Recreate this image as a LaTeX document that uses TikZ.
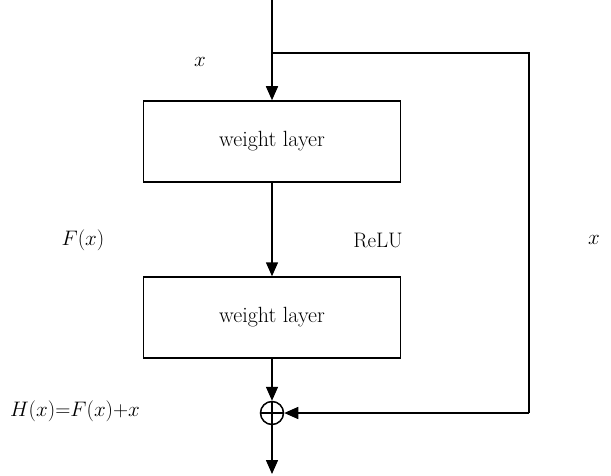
\RequirePackage{fix-cm}
\documentclass[tikz,border=0pt]{standalone}
\usetikzlibrary{arrows.meta}
\begin{document}
\begin{tikzpicture}[x=1pt,y=-1pt,
  line width=1.5pt,
  arr/.style={-{Triangle[length=14pt,width=12pt]}},
  wbox/.style={draw,minimum width=257pt,minimum height=81pt,inner sep=0pt,font=\fontsize{22}{26}\selectfont},
  lbl/.style={font=\fontsize{21}{25}\selectfont,inner sep=0pt},
  sumnode/.style={draw,circle,minimum size=23pt,inner sep=0pt,
    path picture={\draw[line width=1.5pt] (path picture bounding box.north) -- (path picture bounding box.south)
      (path picture bounding box.west) -- (path picture bounding box.east);}}]
\useasboundingbox (0,0) rectangle (611,476);
\node[wbox] (w1) at (272,141.5) {weight layer};
\node[wbox] (w2) at (272,317.5) {weight layer};
\node[sumnode] (s) at (272,413) {};
\coordinate (top) at (272,0);
\coordinate (br) at (272,53);
\coordinate (rt) at (529,53);
\coordinate (rb) at (529,413);
\coordinate (out) at (272,474);
\draw[arr] (top) -- (w1.north);
\draw (br) -- (rt) -- (rb);
\draw[arr] (rb) -- (s.east);
\draw[arr] (w1.south) -- (w2.north);
\draw[arr] (w2.south) -- (s.north);
\draw[arr] (s.south) -- (out);
\node[lbl] (lx) at (200,62) {$x$};
\node[lbl] (lf) at (83,240) {$F(x)$};
\node[lbl] (lr) at (378,240) {ReLU};
\node[lbl] (lx2) at (594,240) {$x$};
\node[lbl] (lh) at (75,411) {$H(x){=}F(x){+}x$};
\end{tikzpicture}
\end{document}
